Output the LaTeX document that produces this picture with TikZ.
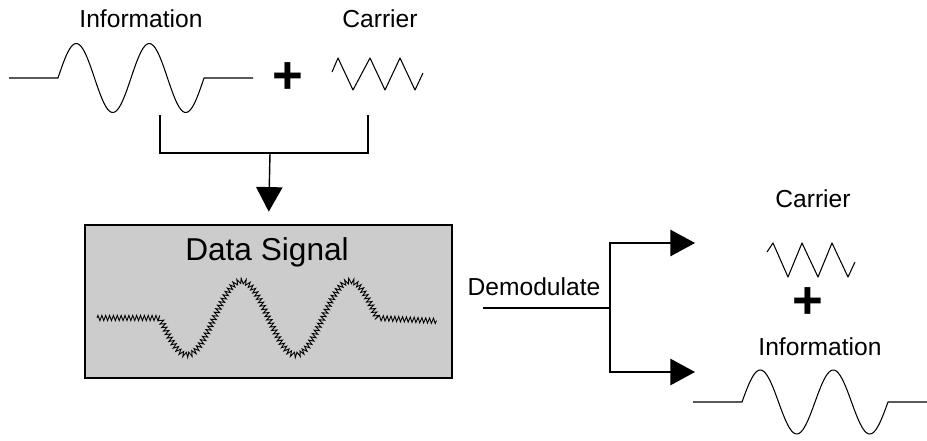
\documentclass[tikz,border=0pt]{standalone}
\usepackage{fontspec}
\setmainfont{Liberation Sans}
\usetikzlibrary{positioning,arrows.meta,decorations.pathmorphing}

\tikzset{
  lbl/.style={font=\fontsize{14}{17}\selectfont, inner sep=0pt, anchor=base},
  plussign/.style={font=\fontsize{30}{30}\selectfont\bfseries, inner sep=0pt},
  wave/.style={line width=0.6pt, line join=round},
  link/.style={line width=0.8pt},
  bigtip/.style={-{Triangle[length=14pt,width=15pt]}},
  databox/.style={draw, line width=1.2pt, fill=black!20,
    minimum width=7.34cm, minimum height=3.06cm, inner sep=0pt},
  noisy/.style={line width=0.5pt, decorate,
    decoration={zigzag, segment length=2.2pt, amplitude=1.5pt}},
}

\begin{document}
\begin{tikzpicture}[x=0.02cm, y=-0.02cm]
  \useasboundingbox (0,0) rectangle (927,440);

  % information + carrier
  \node[lbl] (info) at (141,27) {Information};
  \node[lbl] (carrier) at (380,27) {Carrier};
  \node[plussign] (plusA) at (288,78) {+};
  \draw[wave] (9,78) -- (58,78)
    -- plot[domain=0:146, samples=90] ({58+\x},{78-34.5*sin(\x/73*360)})
    -- (253,78);
  \draw[wave] (332,72) -- (338,58) -- (353,90) -- (370,58) -- (385,90)
    -- (400,58) -- (415,90) -- (423,73);

  \coordinate (infoTap) at (160,115);
  \coordinate (carTap) at (368,115);
  \coordinate (join) at (270,153);
  \draw[link] (infoTap) |- (join) -| (carTap);

  % modulated signal
  \node[databox] (data) at (268.5,301.5) {};
  \node[lbl, font=\fontsize{18}{21}\selectfont] (dataLabel) at (267,260) {Data Signal};
  \draw[noisy] (97,318) -- (160,318)
    -- plot[domain=0:217, samples=100] ({160+\x},{318+37*sin(\x/108.5*360)})
    -- (437,321);
  \draw[link, bigtip, shorten >=7pt] (join) -- (data.north);

  % demodulation
  \node[lbl] (demod) at (534,295) {Demodulate};
  \coordinate (demodIn) at (483,308);
  \coordinate (split) at (610,308);
  \coordinate (carOut) at (695,243);
  \coordinate (infoOut) at (695,372);
  \draw[link] (demodIn) -- (split);
  \draw[link, bigtip] (split) |- (carOut);
  \draw[link, bigtip] (split) |- (infoOut);

  \node[lbl] (carrierB) at (813,207) {Carrier};
  \draw[wave] (767,252) -- (773,243) -- (788,277) -- (802,243) -- (818,277)
    -- (832,243) -- (848,277) -- (855,262);
  \node[plussign] (plusB) at (808,303) {+};
  \node[lbl] (infoB) at (820,355) {Information};
  \draw[wave] (693,402) -- (742,402)
    -- plot[domain=0:146, samples=90] ({742+\x},{402-32*sin(\x/73*360)})
    -- (927,402);
\end{tikzpicture}
\end{document}
